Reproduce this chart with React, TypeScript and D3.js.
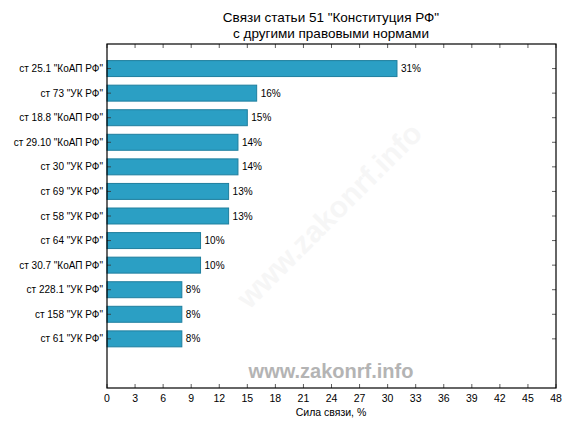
import React from "react";
import * as d3 from "d3";

const categories = [
  'ст 25.1 "КоАП РФ"',
  'ст 73 "УК РФ"',
  'ст 18.8 "КоАП РФ"',
  'ст 29.10 "КоАП РФ"',
  'ст 30 "УК РФ"',
  'ст 69 "УК РФ"',
  'ст 58 "УК РФ"',
  'ст 64 "УК РФ"',
  'ст 30.7 "КоАП РФ"',
  'ст 228.1 "УК РФ"',
  'ст 158 "УК РФ"',
  'ст 61 "УК РФ"',
];
const values = [31, 16, 15, 14, 14, 13, 13, 10, 10, 8, 8, 8];
const xTicks = [0, 3, 6, 9, 12, 15, 18, 21, 24, 27, 30, 33, 36, 39, 42, 45, 48];
const titleLines = ['Связи статьи 51 "Конституция РФ"', "с другими правовыми нормами"];
const xLabel = "Сила связи, %";
const watermark = "www.zakonrf.info";

export default function App() {
  const W = 576, H = 432;
  const left = 107, right = 556, top = 44, bottom = 388;
  const x = d3.scaleLinear().domain([0, 48]).range([left, right]);
  const y = d3.scaleLinear().domain([0, 14]).range([top, bottom]);
  const step = y(1) - y(0);
  const barH = step * 0.65;
  const font = "'Liberation Sans', Arial, sans-serif";
  return (
    <svg width={W} height={H} style={{ position: "absolute", left: 0, top: 0 }} fontFamily={font}>
      <rect width={W} height={H} fill="#fff" />
      {titleLines.map((t, i) => (
        <text key={i} x={331} y={22 + i * 16} textAnchor="middle" fontSize={13.5} fill="#000">{t}</text>
      ))}
      <text x={0} y={0} transform={`translate(331,217) rotate(-45)`} textAnchor="middle" fontSize={30} fontWeight="bold" fill="#f6f6f6" dominantBaseline="middle">{watermark}</text>
      {values.map((v, i) => {
        const cy = y(i + 1);
        return (
          <g key={i}>
            <rect x={x(0)} y={cy - barH / 2} width={x(v) - x(0)} height={barH} fill="#2b9fc4" stroke="#1f7f9e" strokeWidth={1} />
            <text x={x(v) + 4} y={cy + 3.5} fontSize={10} fill="#000">{v + "%"}</text>
            <text x={103} y={cy + 3.5} fontSize={10} textAnchor="end" fill="#000">{categories[i]}</text>
            <line x1={left} x2={left + 4} y1={cy} y2={cy} stroke="#333" strokeWidth={0.8} />
            <line x1={right - 4} x2={right} y1={cy} y2={cy} stroke="#333" strokeWidth={0.8} />
          </g>
        );
      })}
      <text x={331} y={378} textAnchor="middle" fontSize={20} fontWeight="bold" fill="#b4b4b4">{watermark}</text>
      {xTicks.map((t) => (
        <g key={t}>
          <line x1={x(t)} x2={x(t)} y1={bottom} y2={bottom - 4} stroke="#333" strokeWidth={0.8} />
          <line x1={x(t)} x2={x(t)} y1={top} y2={top + 4} stroke="#333" strokeWidth={0.8} />
          <text x={x(t)} y={402} textAnchor="middle" fontSize={10.5} fill="#000">{t}</text>
        </g>
      ))}
      <rect x={left} y={top} width={right - left} height={bottom - top} fill="none" stroke="#000" strokeWidth={1.2} />
      <text x={331} y={416} textAnchor="middle" fontSize={10.5} fill="#000">{xLabel}</text>
    </svg>
  );
}
